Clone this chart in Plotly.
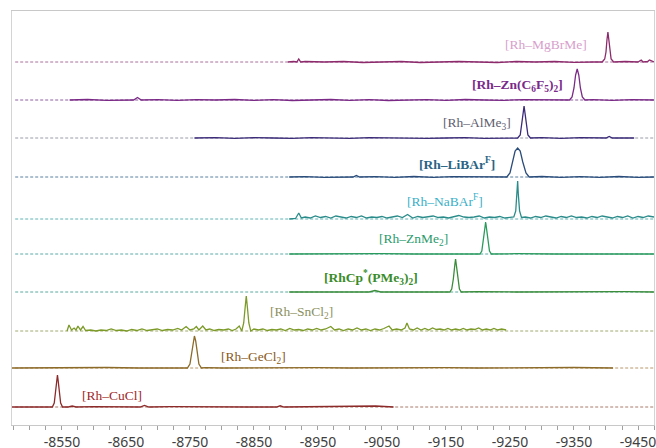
import plotly.graph_objects as go

# ---------------- data ----------------
labels = ["[Rh–MgBrMe]", "<b>[Rh–Zn(C<sub>6</sub>F<sub>5</sub>)<sub>2</sub>]</b>", "[Rh–AlMe<sub>3</sub>]",
          "<b>[Rh–LiBAr<sup>F</sup>]</b>", "[Rh–NaBAr<sup>F</sup>]", "[Rh–ZnMe<sub>2</sub>]",
          "<b>[RhCp<sup>*</sup>(PMe<sub>3</sub>)<sub>2</sub>]</b>", "[Rh–SnCl<sub>2</sub>]", "[Rh–GeCl<sub>2</sub>]",
          "[Rh–CuCl]"]

offsets = [363, 325, 287, 248, 206, 171, 133, 94, 57, 18]

mg_x = [-8903, -8912, -8917, -8920, -8923, -8930, -8960, -8990, -9020, -9050, -9080, -9110, -9140, -9170,
        -9200, -9230, -9260, -9290, -9320, -9350, -9380, -9394, -9398, -9400, -9401.5, -9403, -9404.5, -9406,
        -9408, -9412, -9430, -9450, -9455, -9458, -9465, -9468, -9475]
mg_y = [0, 0.5, 0, 3, 0, 0.5, 0, 0.5, -0.5, 0, 0.5, -0.5, 0, 0.5,
        0, -0.5, 0.5, 0, 0.5, -0.3, 0, 0, 3, 10, 22, 30, 22, 10,
        3, 0, 0.5, 0, 2, 0, 0.5, 2, 0]

zn_x = [-8562, -8590, -8620, -8650, -8662, -8668, -8674, -8700, -8730, -8760, -8790, -8820, -8850, -8880,
        -8910, -8940, -8970, -9000, -9030, -9060, -9090, -9120, -9150, -9180, -9210, -9240, -9270, -9300,
        -9330, -9343, -9347, -9350, -9352.5, -9355, -9357.5, -9360, -9363, -9367, -9380, -9410, -9440, -9475]
zn_y = [0, 0.5, -0.3, 0.3, 0, 2.5, 0, 0.3, -0.3, 0.3, 0, 0.5, -0.3, 0.3,
        -0.5, 0, 0.5, -0.3, 0.3, -0.5, 0, 0.3, -0.3, 0.5, 0, -0.3, 0.3, 0,
        -0.3, 0, 3, 12, 25, 31, 25, 12, 3, 0, 0.3, -0.3, 0.3, 0]

al_x = [-8757, -8790, -8820, -8850, -8880, -8910, -8940, -8970, -9000, -9030, -9060, -9090, -9120, -9150,
        -9180, -9210, -9240, -9262, -9266, -9268.5, -9270.8, -9272, -9273.2, -9275.5, -9278, -9282, -9300,
        -9330, -9360, -9400, -9405, -9410, -9444]
al_y = [0, 0.3, -0.3, 0.3, 0, -0.3, 0.3, 0, -0.3, 0.3, 0, 0.3, -0.3, 0,
        0.3, -0.3, 0, 0, 3, 13, 26, 32, 26, 13, 3, 0, 0.3,
        -0.3, 0.3, 0, 1.5, 0, 0]

li_x = [-8905, -8930, -8960, -8990, -9005, -9010, -9015, -9040, -9070, -9100, -9130, -9160, -9190, -9220,
        -9245, -9250, -9254, -9258, -9262, -9266, -9270, -9275, -9280, -9300, -9330, -9360, -9390, -9420,
        -9450, -9475]
li_y = [0, 0.3, -0.3, 0.3, 0, 1.5, 0, 0.3, -0.3, 0.5, -0.3, 0.3, 0, 0.3,
        0, 4, 15, 26, 29, 26, 15, 4, 0, 0.5, -0.3, 0.3, -0.3, 0.5,
        -0.3, 0]

na_pts = [(-8905, 0), (-8915, 0.5), (-8920, 6), (-8924, 1), (-8930, 2), (-8938, 1), (-8946, 3), (-8954, 1.5),
          (-8962, 2.5), (-8970, 1), (-8978, 3), (-8986, 2), (-8994, 1), (-9002, 2.5), (-9010, 1.5), (-9018, 3),
          (-9026, 1), (-9034, 2), (-9042, 1.5), (-9050, 2.5), (-9058, 1), (-9066, 2), (-9074, 3), (-9082, 1.5),
          (-9090, 4.5), (-9098, 1), (-9106, 2.5), (-9114, 1.5), (-9122, 2), (-9130, 3), (-9138, 1.5), (-9146, 2),
          (-9154, 1), (-9162, 2.5), (-9170, 3.5), (-9178, 2), (-9186, 1.5), (-9194, 2), (-9202, 3), (-9210, 1),
          (-9218, 2), (-9226, 1.5), (-9234, 2.5), (-9242, 1), (-9250, 1.5), (-9256, 2), (-9259, 8), (-9261, 25),
          (-9262, 38), (-9263, 25), (-9265, 8), (-9268, 1.5), (-9274, 2), (-9282, 1), (-9290, 2.5), (-9298, 1.5),
          (-9306, 3), (-9314, 2), (-9322, 1), (-9330, 2.5), (-9338, 1.5), (-9346, 3), (-9354, 1.5), (-9362, 2),
          (-9370, 1), (-9378, 2.5), (-9386, 1.5), (-9394, 3), (-9402, 2), (-9410, 1), (-9418, 2.5), (-9426, 1.5),
          (-9434, 3), (-9442, 1), (-9450, 2.5), (-9458, 1.5), (-9466, 3), (-9475, 2)]

zm_x = [-8905, -8950, -9000, -9050, -9100, -9150, -9190, -9203, -9206, -9208.5, -9210.8, -9212, -9213.2,
        -9215.5, -9218, -9221, -9260, -9320, -9380, -9430, -9475]
zm_y = [0, 0.3, 0, 0.3, 0, 0.3, 0, 0, 3, 13, 26, 32, 26,
        13, 3, 0, 0.3, 0, 0.3, 0, 0]

cp_x = [-8905, -8950, -9000, -9030, -9039, -9048, -9100, -9145, -9156, -9159, -9161.5, -9163.8, -9165,
        -9166.2, -9168.5, -9171, -9174, -9200, -9260, -9320, -9380, -9430, -9475]
cp_y = [0, 0.3, 0, 0, 1.5, 0, 0.3, 0, 0, 3, 13, 27, 33,
        27, 13, 3, 0, 0.3, 0, 0.3, 0, 0.3, 0]

sn_pts = [(-8558, 0), (-8561, 6), (-8565, 1), (-8569, 3), (-8572, 1), (-8575, 5), (-8579, 1), (-8583, 4.5),
          (-8587, 0.5), (-8595, 1), (-8603, 0), (-8611, 1), (-8619, 0.5), (-8627, 2), (-8635, 0.5), (-8643, 1),
          (-8651, 0), (-8659, 1.5), (-8667, 0.5), (-8675, 2), (-8683, 0.5), (-8691, 1), (-8699, 2), (-8707, 0.5),
          (-8715, 1.5), (-8723, 1), (-8731, 2.5), (-8737, 1), (-8744, 4.5), (-8750, 1), (-8756, 2), (-8760, 4.5),
          (-8764, 1), (-8770, 5), (-8775, 1), (-8781, 2), (-8788, 0.5), (-8795, 1.5), (-8803, 1), (-8810, 2),
          (-8816, 0.5), (-8822, 2), (-8827, 5), (-8831, 0), (-8834, 8), (-8836, 22), (-8838, 35), (-8840, 22),
          (-8842, 8), (-8845, 0), (-8850, 2), (-8857, 1), (-8864, 2), (-8871, 0.5), (-8878, 1.5), (-8885, 1),
          (-8892, 2), (-8899, 0.5), (-8906, 2.5), (-8913, 1), (-8920, 1.5), (-8927, 0.5), (-8934, 2), (-8941, 1),
          (-8948, 2.5), (-8955, 1), (-8962, 2), (-8970, 4.5), (-8976, 1), (-8983, 2), (-8990, 0.5), (-8997, 2),
          (-9004, 1), (-9011, 3), (-9018, 1), (-9025, 2), (-9032, 0.5), (-9039, 2), (-9046, 1), (-9053, 2.5),
          (-9061, 5), (-9066, 1), (-9073, 2), (-9080, 1), (-9086, 3), (-9089, 8), (-9093, 2), (-9099, 1),
          (-9105, 3), (-9111, 1), (-9117, 2.5), (-9123, 1), (-9129, 3), (-9135, 1.5), (-9141, 2), (-9147, 1),
          (-9153, 2.5), (-9159, 1), (-9165, 2), (-9171, 1), (-9177, 2.5), (-9183, 1), (-9189, 2), (-9195, 1.5),
          (-9201, 3), (-9207, 1), (-9213, 2), (-9219, 1), (-9225, 2.5), (-9231, 1), (-9237, 2), (-9244, 1)]

ge_x = [-8472, -8520, -8570, -8620, -8670, -8710, -8740, -8746, -8750, -8753, -8755, -8757, -8759, -8761,
        -8764, -8768, -8774, -8800, -8850, -8900, -8950, -9000, -9050, -9100, -9150, -9200, -9250, -9300,
        -9350, -9411]
ge_y = [0, 0.3, 0, 0.5, 0, 0.3, 0, 0, 4, 16, 27, 32, 27, 16,
        4, 0, 0.3, 0, 0.3, 0, 0.3, 0, 0.3, 0, 0.3, 0, 0.3, 0,
        0.5, 0]

cu_x = [-8472, -8500, -8525, -8535, -8538, -8540.5, -8542, -8543, -8544, -8545.5, -8548, -8551, -8560, -8566,
        -8572, -8600, -8640, -8672, -8679, -8686, -8720, -8760, -8800, -8840, -8885, -8891, -8897, -8940,
        -8980, -9020, -9040, -9068]
cu_y = [0, 0.3, 0, 0, 4, 16, 27, 32, 27, 16, 4, 0, 0, 1,
        0, 0.3, 0, 0, 1.5, 0, 0.3, 0, 0.3, 0, 0, 1.2, 0, 0.3,
        0, 0.3, 1, 0]

na_x = [p[0] for p in na_pts]
na_y = [p[1] for p in na_pts]
sn_x = [p[0] for p in sn_pts]
sn_y = [p[1] for p in sn_pts]

spectra_x = [mg_x, zn_x, al_x, li_x, na_x, zm_x, cp_x, sn_x, ge_x, cu_x]
spectra_y = [mg_y, zn_y, al_y, li_y, na_y, zm_y, cp_y, sn_y, ge_y, cu_y]

tick_vals = [-8550, -8650, -8750, -8850, -8950, -9050, -9150, -9250, -9350, -9450]
tick_text = ["-8550", "-8650", "-8750", "-8850", "-8950", "-9050", "-9150", "-9250", "-9350", "-9450"]

# ---------------- styles ----------------
line_colors = ["#8c2a6c", "#7a2a86", "#3a2a78", "#2a4c7a", "#2a8c8a", "#2a9a5c", "#3a8c3a",
               "#7c9a28", "#8c6a28", "#8c2a2a"]
dash_colors = ["#a8709a", "#8e5ea0", "#9a9aa8", "#5a80a0", "#60b4b4", "#5aaaa8", "#5aaaa0",
               "#a0aa70", "#b8986a", "#a87a6a"]
label_colors = ["#d8a0cc", "#7a2a8a", "#606070", "#2a6484", "#3ab0c8", "#2a9a6c", "#3a8c2a",
                "#8c9060", "#8a5a20", "#a02a2a"]
label_pos = [(-9307, 381), (-9262, 340), (-9198, 302), (-9167, 262), (-9148, 225),
             (-9100, 186), (-9033, 148), (-8924, 113), (-8849, 68), (-8628, 30)]

X_LEFT, X_RIGHT = -8472, -9475

fig = go.Figure()
for i in range(len(labels)):
    fig.add_trace(go.Scatter(x=[X_LEFT - 5, X_RIGHT], y=[offsets[i], offsets[i]], mode="lines",
                             line=dict(color=dash_colors[i], width=1, dash="3px,2px"),
                             hoverinfo="skip", showlegend=False))
for i in range(len(labels)):
    fig.add_trace(go.Scatter(x=spectra_x[i], y=[offsets[i] + v for v in spectra_y[i]], mode="lines",
                             line=dict(color=line_colors[i], width=1.3),
                             showlegend=False))

for i, t in enumerate(labels):
    fig.add_annotation(x=label_pos[i][0], y=label_pos[i][1], text=t, showarrow=False,
                       xref="x", yref="y",
                       font=dict(family="Liberation Serif", size=13.5, color=label_colors[i]))

fig.update_xaxes(range=[X_LEFT, X_RIGHT], tickvals=tick_vals, ticktext=tick_text,
                 ticks="outside", ticklen=4, tickcolor="#a0a0a0", tickwidth=1,
                 minor=dict(dtick=25, tick0=-8550, ticks="outside", ticklen=4, tickcolor="#a0a0a0"),
                 showline=True, linecolor="#c8c8c8", linewidth=1, mirror=True,
                 showgrid=False, zeroline=False, automargin=False, ticklabeloverflow="allow",
                 tickfont=dict(family="Noto Sans", size=14, color="#404040"))
fig.update_yaxes(range=[0, 414], showticklabels=False, ticks="", showgrid=False, zeroline=False,
                 showline=True, linecolor="#d4d4d4", linewidth=1, mirror=True, automargin=False)

fig.update_layout(width=656, height=448, margin=dict(l=12, r=2, t=11, b=23),
                  paper_bgcolor="white", plot_bgcolor="white")

fig.write_html("out.html", config={"displayModeBar": False},
               post_script="document.body.style.margin='0';document.body.style.overflow='hidden';")
